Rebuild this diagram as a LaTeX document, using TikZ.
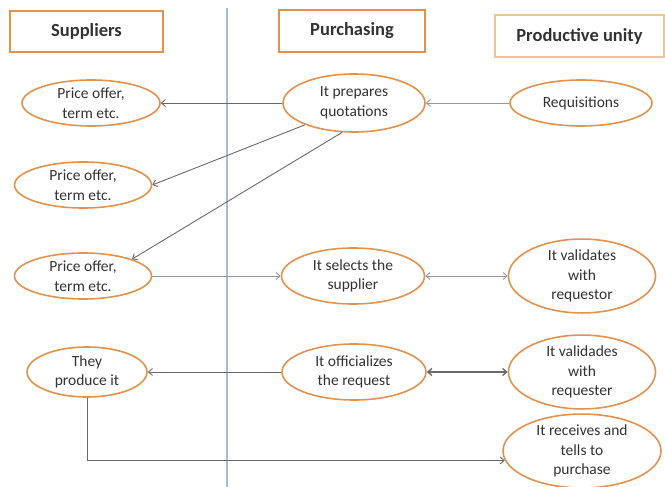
\documentclass[tikz,border=0pt]{standalone}
\usepackage{fontspec}
\setmainfont{Carlito}
\usetikzlibrary{arrows.meta,shapes.geometric}
\definecolor{boxorange}{HTML}{E3924E}
\definecolor{paleorange}{HTML}{EDC39C}
\definecolor{divider}{HTML}{A8BCD2}
\definecolor{inkgray}{HTML}{333333}
\definecolor{linkgray}{HTML}{6A6A6A}
\tikzset{
  header/.style={draw=boxorange, line width=1.6pt, fill=white, inner sep=0pt,
    text=inkgray, font=\fontsize{18.5}{22}\selectfont\bfseries},
  oval/.style={ellipse, draw=boxorange, line width=1.6pt, fill=white, inner sep=0pt,
    align=center, text=inkgray, font=\fontsize{15.5}{19.5}\selectfont},
  link/.style={draw=linkgray, line width=0.9pt, -{Straight Barb[length=4pt,width=7pt]}},
  duallink/.style={link, {Straight Barb[length=4pt,width=7pt]}-{Straight Barb[length=4pt,width=7pt]}},
}
\begin{document}
\begin{tikzpicture}[x=1pt,y=-1pt]
\useasboundingbox (0,0) rectangle (665,487);

% column divider
\draw[divider, line width=1.2pt] (227,8) coordinate (divtop) -- (227,487) coordinate (divbot);

% column headers
\node[header, minimum width=153pt, minimum height=41pt] (hsup) at (86.5,31.5) {Suppliers};
\node[header, minimum width=146pt, minimum height=42pt] (hpur) at (352,31) {Purchasing};
\node[header, draw=paleorange, minimum width=169pt, minimum height=42pt] (hprod) at (579.5,36) {Productive unity};

% suppliers column
\node[oval, minimum width=138pt, minimum height=46pt] (s1) at (91,103) {Price offer,\\term etc.};
\node[oval, minimum width=137pt, minimum height=46pt] (s2) at (83,185) {Price offer,\\term etc.};
\node[oval, minimum width=137pt, minimum height=46pt] (s3) at (83,276) {Price offer,\\term etc.};
\node[oval, minimum width=120pt, minimum height=50pt] (s4) at (87,372) {They\\produce it};

% purchasing column
\node[oval, minimum width=142pt, minimum height=58pt] (p1) at (354,103) {It prepares\\quotations};
\node[oval, minimum width=143pt, minimum height=56pt] (p2) at (353,276) {It selects the\\supplier};
\node[oval, minimum width=144pt, minimum height=56pt] (p3) at (354,372) {It officializes\\the request};

% productive unit column
\node[oval, minimum width=142pt, minimum height=46pt] (r1) at (581,103) {Requisitions};
\node[oval, minimum width=147pt, minimum height=66pt] (r2) at (582,276) {It validates\\with\\requestor};
\node[oval, minimum width=147pt, minimum height=66pt] (r3) at (582,372) {It validades\\with\\requester};
\node[oval, minimum width=158pt, minimum height=66pt] (r4) at (582,451) {It receives and\\tells to\\purchase};

% flows
\draw[link, draw=linkgray!70] (r1) -- (p1);
\draw[link] (p1) -- (s1);
\draw[link] (p1.204) -- (s2.east);
\draw[link] (p1.248) -- (s3.north east);
\draw[link, draw=linkgray!70] (s3) -- (p2);
\draw[duallink, draw=linkgray!70] (p2) -- (r2);
\draw[link] (p3) -- (s4);
\draw[duallink, line width=1.4pt] (p3) -- (r3);
\draw[link] (s4.south) |- (r4.187);
\end{tikzpicture}
\end{document}
